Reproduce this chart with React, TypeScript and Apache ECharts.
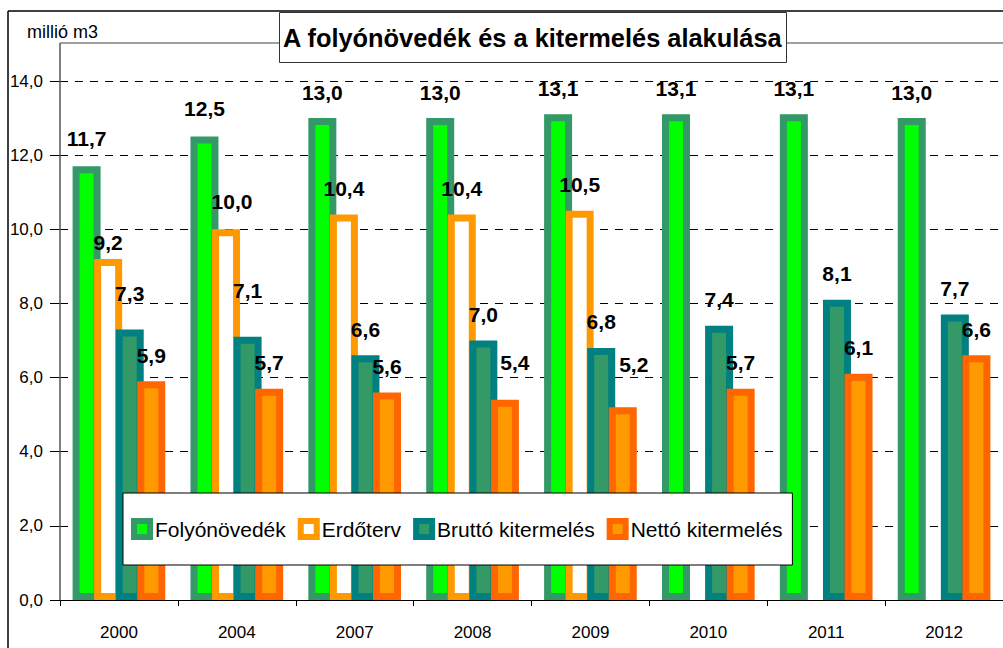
import React, { useEffect, useRef } from "react";
import * as echarts from "echarts";

// ---- data ----
const years = ["2000", "2004", "2007", "2008", "2009", "2010", "2011", "2012"];
const folyonovedek = [11.7, 12.5, 13.0, 13.0, 13.1, 13.1, 13.1, 13.0];
const erdoterv: (number | null)[] = [9.2, 10.0, 10.4, 10.4, 10.5, null, null, null];
const brutto = [7.3, 7.1, 6.6, 7.0, 6.8, 7.4, 8.1, 7.7];
const netto = [5.9, 5.7, 5.6, 5.4, 5.2, 5.7, 6.1, 6.6];
const yMin = 0;
const yMax = 14;
const yStep = 2;

// ---- styles ----
const SANS = "'Liberation Sans', Arial, sans-serif";
const LABEL_DIST = 15.5;
const labelTweaks: Record<string, Record<number, { dx?: number; dist?: number }>> = {
  "Folyónövedék": { 0: { dist: 17.5 }, 1: { dist: 17.5 } },
  "Erdőterv": { 0: { dist: 5.5 }, 1: { dx: 6, dist: 17.5 } },
  "Bruttó kitermelés": { 0: { dist: 25.5 }, 1: { dist: 35.5 } },
  "Nettó kitermelés": { 3: { dx: 10, dist: 26.5 }, 4: { dx: 11, dist: 32.5 } },
};

const fmt = (v: number) => v.toFixed(1).replace(".", ",");

function makeSeries(name: string, values: (number | null)[], fill: string, border: string) {
  return {
    name,
    type: "bar",
    barWidth: 28,
    barGap: "-23%",
    itemStyle: { color: fill, borderColor: border, borderWidth: 7 },
    label: {
      show: true,
      position: "top",
      distance: LABEL_DIST,
      formatter: (p: any) => fmt(Number(p.value)),
      fontFamily: SANS,
      fontWeight: "bold",
      fontSize: 21,
      color: "#000",
    },
    emphasis: { disabled: true },
    data: values.map((v, i) => {
      if (v == null) return "-";
      const t = labelTweaks[name]?.[i];
      if (!t) return v;
      return { value: v, label: { distance: t.dist ?? LABEL_DIST, offset: [t.dx ?? 0, 0] } };
    }),
  };
}

export default function App() {
  const ref = useRef<HTMLDivElement>(null);
  useEffect(() => {
    if (!ref.current) return;
    const chart = echarts.init(ref.current, undefined, { renderer: "svg" });
    chart.setOption({
      animation: false,
      backgroundColor: "#fff",
      title: {
        text: "A folyónövedék és a kitermelés alakulása",
        left: 279,
        top: 12,
        padding: [13, 4],
        backgroundColor: "#fff",
        borderColor: "#333",
        borderWidth: 1,
        z: 10,
        textStyle: { fontFamily: SANS, fontWeight: "bold", fontSize: 25.4, color: "#000" },
      },
      legend: {
        left: 123,
        top: 493,
        orient: "horizontal",
        backgroundColor: "#fff",
        borderColor: "#000",
        borderWidth: 1,
        padding: [25, 10, 25, 8],
        itemWidth: 16,
        itemHeight: 16,
        itemGap: 12,
        selectedMode: false,
        icon: "rect",
        itemStyle: { borderWidth: 6 },
        textStyle: { fontFamily: SANS, fontSize: 21, color: "#000" },
        z: 10,
      },
      grid: { left: 60, top: 81, width: 948, height: 519, containLabel: false },
      xAxis: {
        type: "category",
        data: years,
        axisLine: { lineStyle: { color: "#000", width: 1 } },
        axisTick: { show: true, length: 6, lineStyle: { color: "#000" } },
        axisLabel: { fontFamily: SANS, fontSize: 17, color: "#000", margin: 24 },
        splitLine: { show: false },
      },
      yAxis: {
        type: "value",
        min: yMin,
        max: yMax,
        interval: yStep,
        axisLine: { show: false },
        axisTick: { show: true, length: 10, lineStyle: { color: "#000" } },
        axisLabel: {
          fontFamily: SANS,
          fontSize: 17,
          color: "#000",
          margin: 17,
          formatter: (v: number) => fmt(v),
        },
        splitLine: { show: true, lineStyle: { color: "#000", type: [8, 7], width: 1 } },
      },
      graphic: [
        { type: "line", z: 1, shape: { x1: 8, y1: 11, x2: 1003, y2: 11 }, style: { stroke: "#000", lineWidth: 1.5 } },
        { type: "line", z: 1, shape: { x1: 8, y1: 11, x2: 8, y2: 648 }, style: { stroke: "#000", lineWidth: 1.5 } },
        { type: "line", z: 1, shape: { x1: 60, y1: 43, x2: 1003, y2: 43 }, style: { stroke: "#808080", lineWidth: 1.5 } },
        { type: "line", z: 1, shape: { x1: 60, y1: 43, x2: 60, y2: 600 }, style: { stroke: "#555", lineWidth: 1.5 } },
        {
          type: "text",
          z: 1,
          x: 27,
          y: 32,
          style: { text: "millió m3", fontSize: 18, fontFamily: SANS, fill: "#000", verticalAlign: "middle" },
        },
      ],
      series: [
        makeSeries("Folyónövedék", folyonovedek, "#00FF00", "#339966"),
        makeSeries("Erdőterv", erdoterv, "#FFFFFF", "#FF9900"),
        makeSeries("Bruttó kitermelés", brutto, "#339966", "#008080"),
        makeSeries("Nettó kitermelés", netto, "#FF9900", "#FF6600"),
      ],
    });
    return () => chart.dispose();
  }, []);
  return (
    <div
      ref={ref}
      style={{ position: "fixed", left: 0, top: 0, width: 1003, height: 648, background: "#fff" }}
    />
  );
}
